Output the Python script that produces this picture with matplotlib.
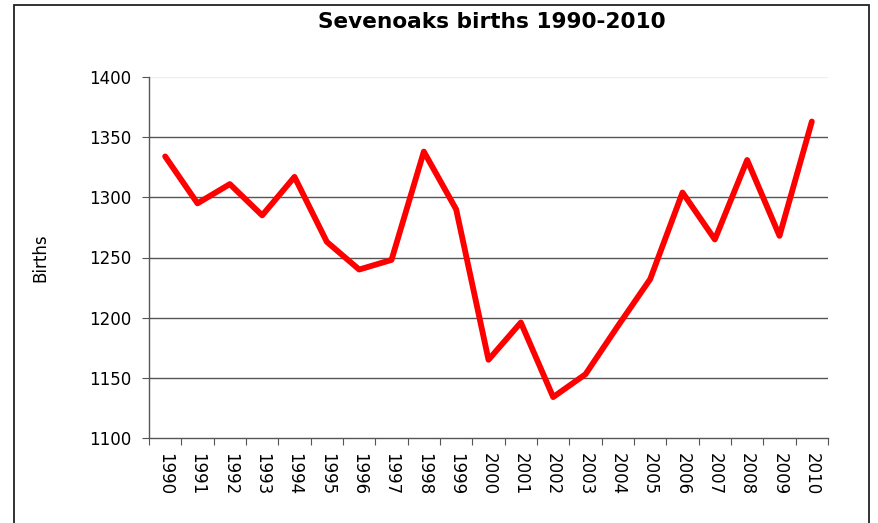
import matplotlib.pyplot as plt
from matplotlib.patches import Rectangle
import numpy as np

years = [str(y) for y in range(1990, 2011)]
births = [1334, 1295, 1311, 1285, 1317, 1263, 1240, 1248, 1338, 1290,
          1165, 1196, 1134, 1153, 1193, 1232, 1304, 1265, 1331, 1268, 1363]

W, H = 879, 523
fig = plt.figure(figsize=(W/100, H/100), dpi=100)
ax = fig.add_axes([149/W, 1-438/H, (828-149)/W, (438-77)/H])

x = np.arange(len(years))
ax.plot(x, births, color='#ff0000', lw=4.2, solid_capstyle='round', zorder=3)

ax.set_ylim(1100, 1400)
ax.set_yticks(range(1100, 1401, 50))
ax.set_xlim(-0.5, len(years)-0.5)
ax.set_xticks(np.arange(-0.5, len(years)), labels=[])
ax.set_xticks(x, labels=years, minor=True)
ax.tick_params(axis='x', which='major', length=5, color='#555555', direction='out')
ax.tick_params(axis='x', which='minor', length=0, pad=11, labelsize=12, rotation=-90)
ax.tick_params(axis='y', length=5, color='#555555', labelsize=12, pad=8)
for lab in ax.get_xticklabels(minor=True):
    lab.set_va('top')

for v in range(1150, 1400, 50):
    ax.axhline(v, color='#555555', lw=1, zorder=1)
ax.axhline(1400, color='#eeeeee', lw=1, zorder=1)

for s in ['top', 'right']:
    ax.spines[s].set_visible(False)
for s in ['left', 'bottom']:
    ax.spines[s].set_color('#555555')
    ax.spines[s].set_linewidth(1)

ax.set_ylabel('Births', fontsize=12, labelpad=0)
ax.yaxis.set_label_coords(-100/(828-149), 0.5)

fig.text(492/W, 1-22/H, 'Sevenoaks births 1990-2010', ha='center', va='center',
         fontsize=15.6, fontweight='bold')

fig.patches.append(Rectangle((14/W, -0.05), (869-14)/W, 1.05-5/H, transform=fig.transFigure,
                             fill=False, edgecolor='#222222', lw=1.3))

fig.savefig('out.png', dpi=100)
